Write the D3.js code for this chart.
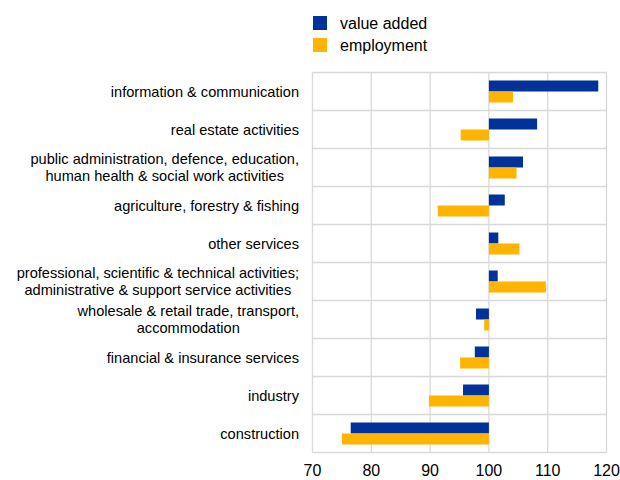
<!DOCTYPE html>
<html>
<head>
<meta charset="utf-8">
<script src="https://cdn.jsdelivr.net/npm/d3@7"></script>
<style>
  body { margin: 0; background: #fff; }
  svg { display: block; font-family: "Liberation Sans", Arial, sans-serif; }
</style>
</head>
<body>
<svg id="chart" width="620" height="480"></svg>
<script>
const categories = [
    ['information & communication'],
    ['real estate activities'],
    ['public administration, defence, education,', 'human health & social work activities'],
    ['agriculture, forestry & fishing'],
    ['other services'],
    ['professional, scientific & technical activities;', 'administrative & support service activities'],
    ['wholesale & retail trade, transport,', 'accommodation'],
    ['financial & insurance services'],
    ['industry'],
    ['construction']
];
const valueAdded = [118.6, 108.2, 105.8, 102.7, 101.6, 101.5, 97.8, 97.6, 95.6, 76.5];
const employment = [104.1, 95.2, 104.7, 91.3, 105.2, 109.7, 99.2, 95.1, 89.8, 75.0];
const seriesNames = ['value added', 'employment'];
const seriesColors = ['#003299', '#ffb400'];
const xTicks = [70, 80, 90, 100, 110, 120];

const plotLeft = 312.5, plotRight = 606.5, plotTop = 72.5, plotBottom = 452.5;

const svg = d3.select('#chart');

const x = d3.scaleLinear().domain([70, 120]).range([plotLeft, plotRight]);
const keys = categories.map((c, i) => i);
const y = d3.scaleBand()
    .domain(keys)
    .range([plotTop, plotBottom])
    .paddingInner(16 / 38)
    .paddingOuter(8 / 38);
const ySub = d3.scaleBand().domain([0, 1]).range([0, y.bandwidth()]);

// grid
const grid = svg.append('g').attr('stroke', '#d9d9d9').attr('stroke-width', 1.3);
grid.selectAll('line.v')
    .data(xTicks)
    .enter()
    .append('line')
    .attr('x1', d => x(d)).attr('x2', d => x(d))
    .attr('y1', plotTop).attr('y2', plotBottom);
const step = y.step();
grid.selectAll('line.h')
    .data(d3.range(categories.length + 1))
    .enter()
    .append('line')
    .attr('x1', plotLeft).attr('x2', plotRight)
    .attr('y1', d => plotTop + d * step).attr('y2', d => plotTop + d * step);

// bars
const rows = svg.append('g')
    .selectAll('g')
    .data(keys)
    .enter()
    .append('g')
    .attr('transform', d => `translate(0,${y(d)})`);

[valueAdded, employment].forEach((series, s) => {
    rows.append('rect')
        .attr('x', d => Math.min(x(100), x(series[d])))
        .attr('width', d => Math.abs(x(series[d]) - x(100)))
        .attr('y', ySub(s))
        .attr('height', ySub.bandwidth())
        .attr('fill', seriesColors[s]);
});

// category labels (lines centred within a right-aligned block)
const labelRight = 299;
rows.each(function(d) {
    const lines = categories[d];
    const g = d3.select(this);
    const cy = y.bandwidth() / 2;
    const t = g.append('text')
        .attr('font-size', 14.6)
        .attr('fill', '#000')
        .attr('text-anchor', 'middle');
    lines.forEach((line, i) => {
        t.append('tspan')
            .attr('y', cy + (i - (lines.length - 1) / 2) * 17)
            .attr('dy', '0.35em')
            .text(line);
    });
    const w = d3.max(t.selectAll('tspan').nodes(), n => n.getComputedTextLength());
    t.selectAll('tspan').attr('x', labelRight - w / 2);
});

// x axis labels
svg.append('g')
    .selectAll('text')
    .data(xTicks)
    .enter()
    .append('text')
    .attr('x', d => x(d))
    .attr('y', 476)
    .attr('text-anchor', 'middle')
    .attr('font-size', 16)
    .attr('fill', '#000')
    .text(d => d);

// legend
const legend = svg.append('g')
    .selectAll('g')
    .data(seriesNames)
    .enter()
    .append('g')
    .attr('transform', (d, i) => `translate(313,${16 + i * 22})`);
legend.append('rect')
    .attr('width', 14).attr('height', 14)
    .attr('fill', (d, i) => seriesColors[i]);
legend.append('text')
    .attr('x', 27).attr('y', 7).attr('dy', '0.35em')
    .attr('font-size', 16)
    .attr('fill', '#000')
    .text(d => d);
</script>
</body>
</html>
